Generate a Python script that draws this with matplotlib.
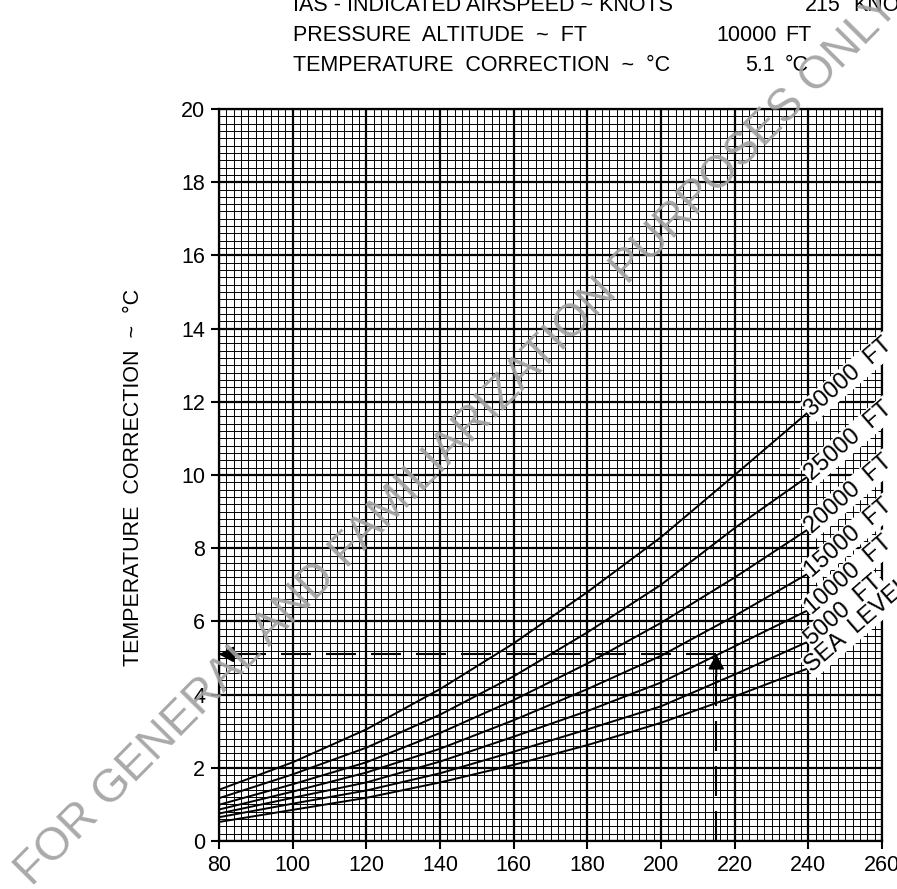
import matplotlib
matplotlib.use('Agg')
import matplotlib.pyplot as plt
from matplotlib.ticker import MultipleLocator

plt.rcParams['font.family'] = ['Liberation Sans', 'DejaVu Sans']

# IAS (knots) where the curves were read
ias_knots = [80, 100, 120, 140, 160, 180, 200, 220, 240]

# temperature correction (deg C) per pressure altitude
corr_30000 = [1.40, 2.15, 3.05, 4.15, 5.40, 6.80, 8.30, 10.00, 11.72]
corr_25000 = [1.17, 1.82, 2.55, 3.45, 4.50, 5.70, 7.00, 8.55, 9.97]
corr_20000 = [0.99, 1.55, 2.15, 2.95, 3.85, 4.85, 5.96, 7.20, 8.52]
corr_15000 = [0.86, 1.35, 1.87, 2.52, 3.30, 4.15, 5.06, 6.15, 7.31]
corr_10000 = [0.75, 1.18, 1.60, 2.17, 2.85, 3.55, 4.33, 5.32, 6.31]
corr_5000 = [0.65, 1.02, 1.38, 1.85, 2.44, 3.05, 3.68, 4.55, 5.45]
corr_sea = [0.52, 0.85, 1.18, 1.60, 2.08, 2.62, 3.23, 3.95, 4.72]

curve_labels = ['30000  FT', '25000  FT', '20000  FT', '15000  FT',
                '10000  FT', '5000  FT', 'SEA  LEVEL']

# worked example
example_ias = 215
example_alt = '10000'
example_corr = 5.1

FS = 15.5
W, H = 897, 889
fig = plt.figure(figsize=(W / 100, H / 100), dpi=100)
ax = fig.add_axes([219 / W, 1 - 841 / H, (882 - 219) / W, (841 - 109) / H])

ax.set_xlim(80, 260)
ax.set_ylim(0, 20)
ax.xaxis.set_major_locator(MultipleLocator(20))
ax.xaxis.set_minor_locator(MultipleLocator(2))
ax.yaxis.set_major_locator(MultipleLocator(2))
ax.yaxis.set_minor_locator(MultipleLocator(0.2))
ax.grid(which='major', color='black', linewidth=1.6)
ax.grid(which='minor', color='black', linewidth=0.7)
ax.set_axisbelow(True)
ax.tick_params(which='minor', length=0)
ax.tick_params(which='major', length=6, width=1.5, labelsize=FS, pad=4)
for spine in ax.spines.values():
    spine.set_linewidth(1.6)

series = [corr_30000, corr_25000, corr_20000, corr_15000,
          corr_10000, corr_5000, corr_sea]
for vals, label in zip(series, curve_labels):
    ax.plot(ias_knots, vals, color='black', linewidth=1.4, zorder=3)
    ax.text(ias_knots[-1], vals[-1], label, rotation=41, rotation_mode='anchor',
            ha='left', va='center', fontsize=17, clip_on=False, zorder=4,
            bbox=dict(facecolor='white', edgecolor='none', pad=1.0))

# dashed guide lines with arrows
ax.plot([example_ias, example_ias], [0, example_corr], color='black',
        linewidth=1.5, dashes=(14.4, 7.2), zorder=5)
ax.plot([example_ias, 80], [example_corr, example_corr], color='black',
        linewidth=1.5, dashes=(14.4, 7.2), zorder=5)
arrow = dict(arrowstyle='-|>,head_length=0.62,head_width=0.34',
             mutation_scale=14, color='black', lw=1.5, shrinkA=0, shrinkB=0)
ax.annotate('', xy=(80, example_corr), xytext=(86, example_corr),
            arrowprops=arrow, zorder=6)
ax.annotate('', xy=(example_ias, example_corr), xytext=(example_ias, example_corr - 0.6),
            arrowprops=arrow, zorder=6)

fig.text(133 / W, 1 - 477 / H, 'TEMPERATURE  CORRECTION  ~  °C', rotation=90,
         ha='center', va='center', fontsize=FS)

# header block
rows = [
    ('IAS - INDICATED AIRSPEED ~ KNOTS', str(example_ias), 'KNOTS', 11, 841, 853),
    ('PRESSURE  ALTITUDE  ~  FT', example_alt, 'FT', 41, 777, 785),
    ('TEMPERATURE  CORRECTION  ~  °C', f'{example_corr:.1f}', '°C', 71, 775, 785),
]
for name, value, unit, y, xv, xu in rows:
    fig.text(293 / W, 1 - y / H, name, ha='left', va='baseline', fontsize=FS)
    fig.text(xv / W, 1 - y / H, value, ha='right', va='baseline', fontsize=FS)
    fig.text(xu / W, 1 - y / H, unit, ha='left', va='baseline', fontsize=FS)

fig.text(458 / W, 1 - 440 / H, 'FOR GENERAL AND FAMILIARIZATION PURPOSES ONLY',
         rotation=45.3, rotation_mode='anchor', ha='center', va='center',
         fontsize=33, color='#a0a0a0', alpha=0.9, zorder=10)

fig.savefig('out.png', dpi=100)
